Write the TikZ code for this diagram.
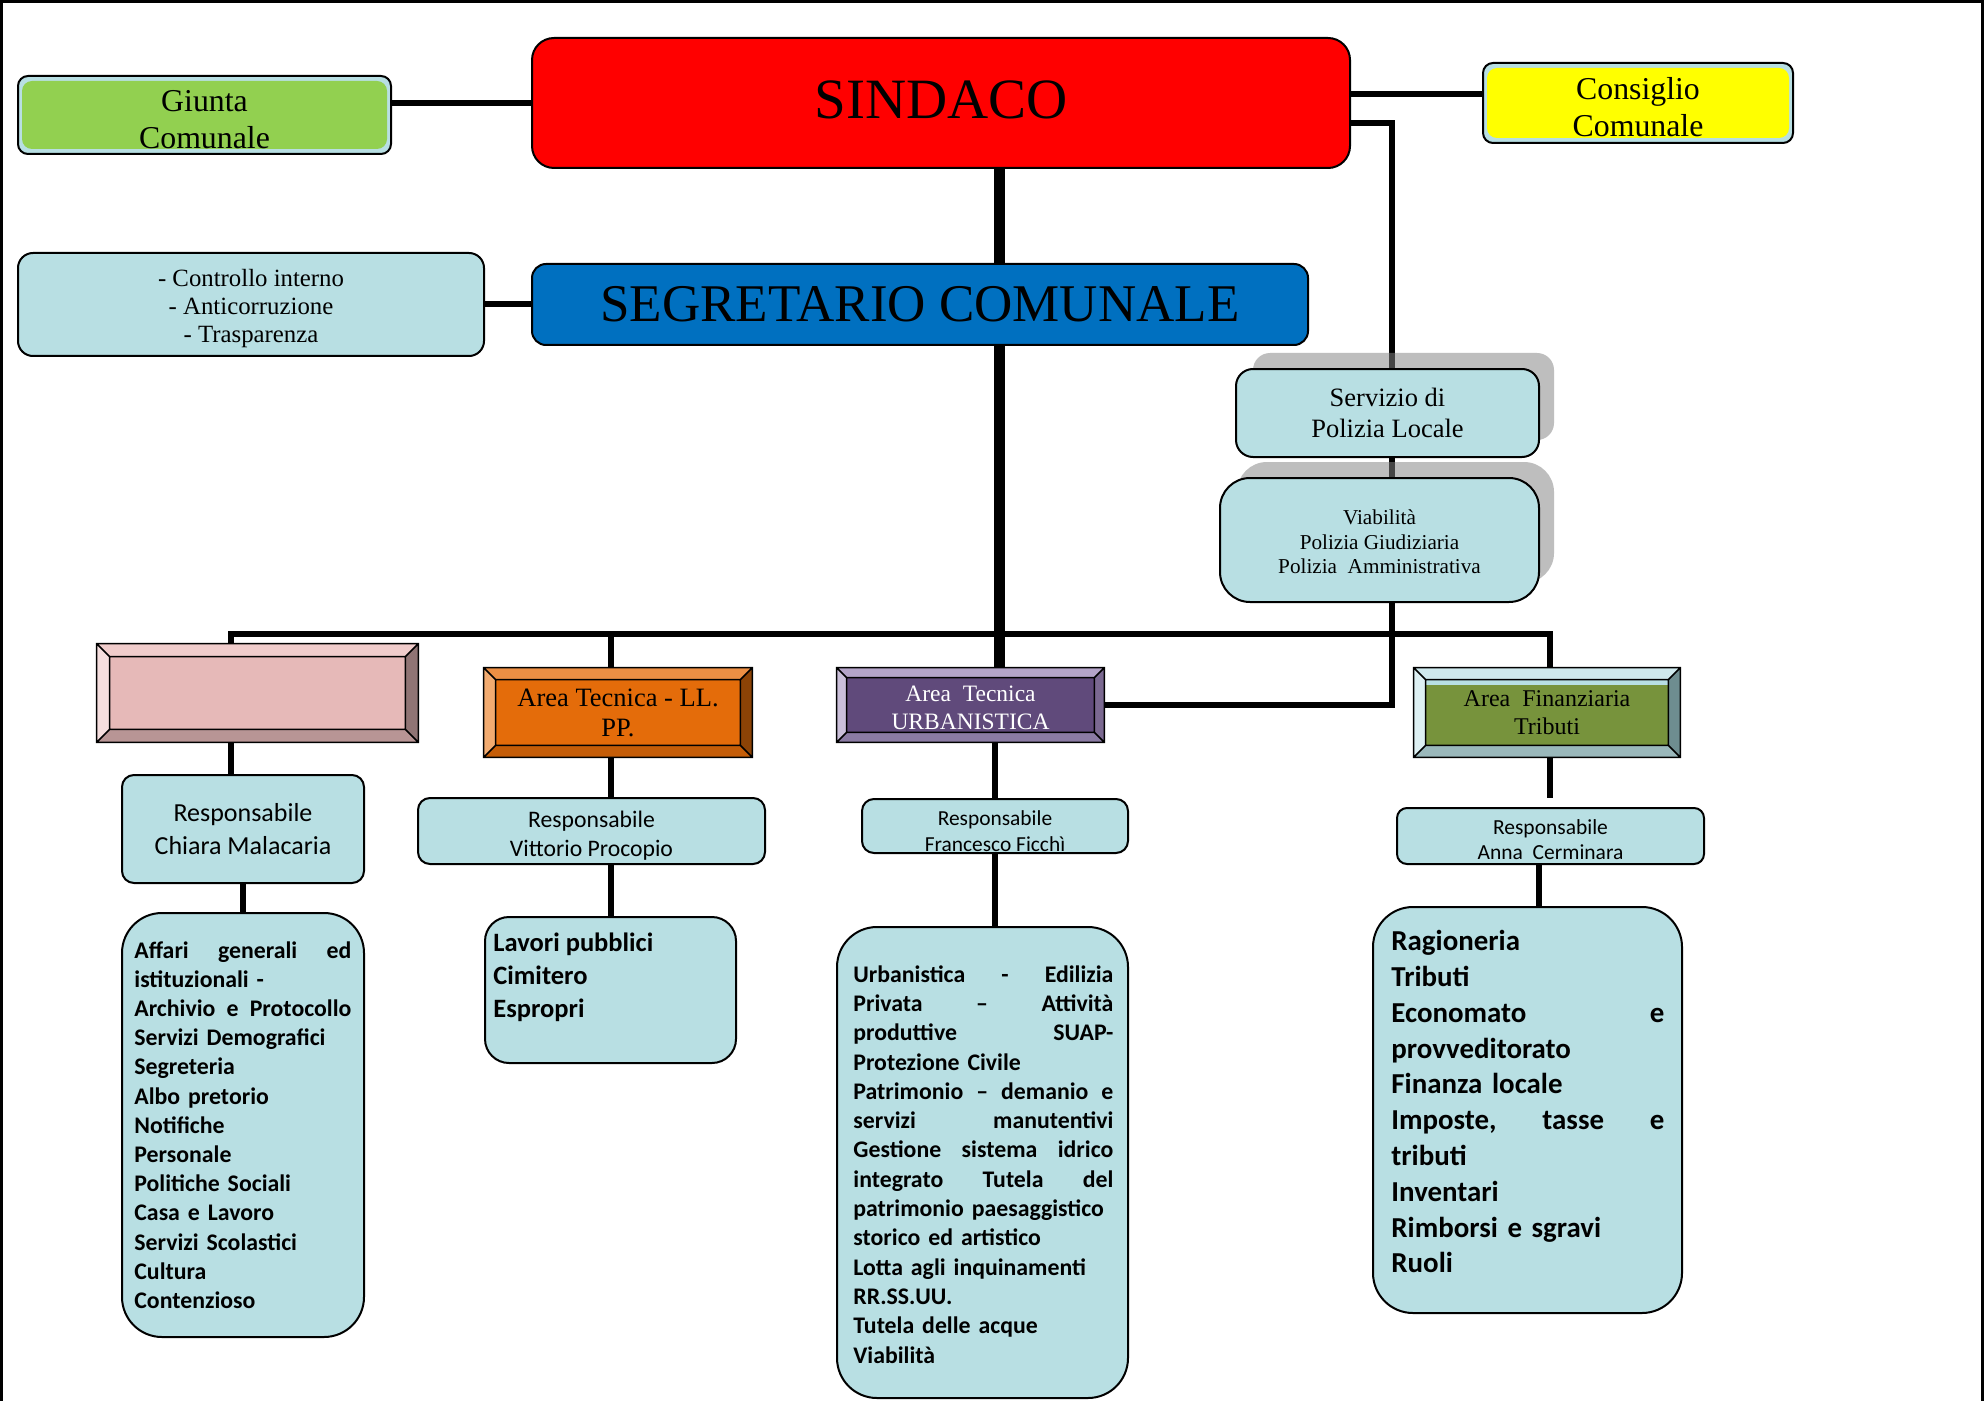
\documentclass[tikz,border=0pt]{standalone}
\usepackage{fontspec}
\setmainfont{Liberation Serif}
\newfontfamily\calfont{Carlito}
\usetikzlibrary{fit,calc}
\pgfdeclarelayer{bg}
\pgfdeclarelayer{mid}
\pgfsetlayers{bg,mid,main}
\definecolor{lblue}{HTML}{B8DFE3}
\definecolor{ggreen}{HTML}{92D050}
\definecolor{cyellow}{HTML}{FFFF00}
\definecolor{sred}{HTML}{FF0000}
\definecolor{sblue}{HTML}{0070C0}
\definecolor{shgray}{HTML}{858585}
\definecolor{pkface}{HTML}{E6B9B8}\definecolor{pktop}{HTML}{F0CCCB}\definecolor{pkleft}{HTML}{F5DEDE}\definecolor{pkright}{HTML}{907474}\definecolor{pkbot}{HTML}{B89595}
\definecolor{orface}{HTML}{E46C0A}\definecolor{ortop}{HTML}{EC8F44}\definecolor{orleft}{HTML}{F2AB70}\definecolor{orright}{HTML}{8C4306}\definecolor{orbot}{HTML}{C45D08}
\definecolor{puface}{HTML}{604A7B}\definecolor{putop}{HTML}{B4A4C8}\definecolor{puleft}{HTML}{CABFD9}\definecolor{puright}{HTML}{7B6991}\definecolor{pubot}{HTML}{8B7BA3}
\definecolor{fiface}{HTML}{77933C}\definecolor{fitop}{HTML}{CFE9ED}\definecolor{fileft}{HTML}{DDF0F3}\definecolor{firight}{HTML}{6E8D90}\definecolor{fibot}{HTML}{9AB8BB}
\tikzset{
  conn/.style={line width=3pt},
  mainline/.style={line width=5.5pt},
  rbox/.style={draw, line width=1pt, fill=lblue, inner sep=0pt, align=center},
  bevbox/.style={inner sep=0pt, align=center},
  bevline/.style={draw=black, line width=0.75pt},
  shadowbox/.style={fill=shgray, opacity=0.525},
  listtxt/.style={inner sep=0pt, align=left, anchor=north west},
  sz/.style 2 args={minimum width=#1, minimum height=#2},
}
\newcommand{\toprule}[1]{\rule{0pt}{#1}}
\newcommand{\bevelframe}[6]{%
  \fill[#3] (#1.north west) -- (#1.north east) -- ($(#1.north east)+(-#2,#2)$) -- ($(#1.north west)+(#2,#2)$) -- cycle;
  \fill[#4] (#1.north west) -- ($(#1.north west)+(#2,#2)$) -- ($(#1.south west)+(#2,-#2)$) -- (#1.south west) -- cycle;
  \fill[#5] (#1.north east) -- ($(#1.north east)+(-#2,#2)$) -- ($(#1.south east)+(-#2,-#2)$) -- (#1.south east) -- cycle;
  \fill[#6] (#1.south west) -- ($(#1.south west)+(#2,-#2)$) -- ($(#1.south east)+(-#2,-#2)$) -- (#1.south east) -- cycle;
  \draw[bevline] (#1.north west) rectangle (#1.south east)
     ($(#1.north west)+(#2,#2)$) rectangle ($(#1.south east)+(-#2,-#2)$)
     (#1.north west) -- ++(#2,#2) (#1.north east) -- ++(-#2,#2)
     (#1.south west) -- ++(#2,-#2) (#1.south east) -- ++(-#2,-#2);
}
\begin{document}
\begin{tikzpicture}[x=0.5pt,y=-0.5pt]
\useasboundingbox (0,0) rectangle (1984,1401);
\begin{pgfonlayer}{bg}
\fill[white] (0,0) rectangle (1984,1401);
\end{pgfonlayer}
\draw[line width=1.5pt] (1.5,1401) -- (1.5,1.5) -- (1982.5,1.5) -- (1982.5,1401);

% top row
\node[rbox, rounded corners=5pt, sz={186.5pt}{39pt}, font=\fontsize{15.9}{18.5}\selectfont,
  path picture={\fill[ggreen] ($(path picture bounding box.south west)+(4,-5)$) rectangle ($(path picture bounding box.north east)+(-4,5)$);}]
  (giunta) at (204.5,115) {\toprule{14.8pt}Giunta\\Comunale};
\node[rbox, rounded corners=5pt, sz={155pt}{40pt}, font=\fontsize{15.9}{18.5}\selectfont,
  path picture={\fill[cyellow] ($(path picture bounding box.south west)+(4,-5)$) rectangle ($(path picture bounding box.north east)+(-4,5)$);}]
  (consiglio) at (1638,103) {\toprule{14.9pt}Consiglio\\Comunale};
\node[rbox, fill=sred, rounded corners=11pt, sz={409pt}{65pt}, font=\fontsize{28.5}{30}\selectfont] (sindaco) at (941,103) {\raisebox{3pt}{SINDACO}};
\node[rbox, fill=sblue, rounded corners=7pt, sz={388pt}{40.5pt}, font=\fontsize{26.5}{28}\selectfont] (segretario) at (920,304.5) {SEGRETARIO COMUNALE};
\node[rbox, rounded corners=7.5pt, sz={233pt}{51.5pt}, font=\fontsize{12.4}{14}\selectfont] (controllo) at (251,304.5) {\toprule{12.4pt}- Controllo interno\\- Anticorruzione\\- Trasparenza};

% polizia
\begin{pgfonlayer}{mid}
\fill[shadowbox, rounded corners=8.5pt] (1253,353) rectangle (1554,440);
\fill[shadowbox, rounded corners=15pt] (1237,462) rectangle (1554,583);
\end{pgfonlayer}
\node[rbox, rounded corners=8.5pt, sz={151.5pt}{44pt}, font=\fontsize{13.25}{15.5}\selectfont] (servizio) at (1387.5,413) {Servizio di\\Polizia Locale};
\node[rbox, rounded corners=15pt, sz={159.5pt}{62pt}, font=\fontsize{10.6}{12.25}\selectfont] (viab) at (1379.5,540) {\toprule{9.5pt}Viabilità\\Polizia Giudiziaria\\Polizia\ \ Amministrativa};

% areas
\node[bevbox, fill=pkface, sz={160.5pt}{49pt}] (pink) at (257.5,693) {};
\bevelframe{pink}{13}{pktop}{pkleft}{pkright}{pkbot}
\node[bevbox, fill=orface, sz={134pt}{44.5pt}, font=\fontsize{13.25}{15}\selectfont] (lavpp) at (618,712.5) {Area Tecnica - LL.\\PP.};
\bevelframe{lavpp}{12}{ortop}{orleft}{orright}{orbot}
\node[bevbox, fill=puface, text=white, sz={133.5pt}{37pt}, font=\fontsize{11.75}{14}\selectfont] (urb) at (970.5,705) {\toprule{10.5pt}Area\ \ Tecnica\\URBANISTICA};
\bevelframe{urb}{10}{putop}{puleft}{puright}{pubot}
\node[bevbox, fill=fiface, sz={133pt}{44.5pt}, font=\fontsize{12}{14}\selectfont] (fin) at (1547,712.5) {Area\ \ Finanziaria\\Tributi};
\fill[lblue] ($(fin.north west)+(12,12)$) rectangle ($(fin.north east)+(-12,17)$);
\bevelframe{fin}{12}{fitop}{fileft}{firight}{fibot}

% responsabili
\node[rbox, rounded corners=6pt, sz={121pt}{54pt}, font=\calfont\fontsize{13}{16.5}\selectfont] (chiara) at (243,829) {Responsabile\\Chiara Malacaria};
\node[rbox, rounded corners=6pt, sz={173.5pt}{33pt}, font=\calfont\fontsize{11.85}{14.5}\selectfont] (vittorio) at (591.5,831) {\toprule{13.2pt}Responsabile\\Vittorio Procopio};
\node[rbox, rounded corners=6pt, sz={133pt}{27pt}, font=\calfont\fontsize{10.7}{13}\selectfont] (francesco) at (995,826) {\toprule{12.4pt}Responsabile\\Francesco Ficchì};
\node[rbox, rounded corners=5pt, sz={153.5pt}{28pt}, font=\calfont\fontsize{10.75}{12.5}\selectfont] (anna) at (1550.5,836) {\toprule{11.4pt}Responsabile\\Anna\ \ Cerminara};

% lists
\node[rbox, rounded corners=20pt, fit={(122,913)(364,1337)}] (leftlist) {};
\node[listtxt, text width=108.5pt, font=\calfont\bfseries\fontsize{11.9}{14.6}\selectfont] (leftlisttxt) at (134,941) {Affari\hfill generali\hfill ed\\istituzionali -\\Archivio\hfill e\hfill Protocollo\\Servizi Demografici\\Segreteria\\Albo pretorio\\Notifiche\\Personale\\Politiche Sociali\\Casa e Lavoro\\Servizi Scolastici\\Cultura\\Contenzioso};
\node[rbox, rounded corners=12pt, fit={(485,917)(736,1063)}] (lavori) {};
\node[listtxt, font=\calfont\bfseries\fontsize{13.25}{16.5}\selectfont] (lavoritxt) at (493,932) {Lavori pubblici\\Cimitero\\Espropri};
\node[rbox, rounded corners=20pt, fit={(837,927)(1128,1398)}] (urblist) {};
\node[listtxt, text width=130pt, font=\calfont\bfseries\fontsize{11.9}{14.65}\selectfont] (urblisttxt) at (853,965) {Urbanistica\hfill -\hfill Edilizia\\Privata\hfill –\hfill Attività\\produttive\hfill SUAP-\\Protezione Civile\\Patrimonio\hfill –\hfill demanio\hfill e\\servizi\hfill manutentivi\\Gestione\hfill sistema\hfill idrico\\integrato\hfill Tutela\hfill del\\patrimonio paesaggistico\\storico ed artistico\\Lotta agli inquinamenti\\RR.SS.UU.\\Tutela delle acque\\Viabilità};
\node[rbox, rounded corners=20pt, fit={(1373,907)(1682,1313)}] (finlist) {};
\node[listtxt, text width=136.5pt, font=\calfont\bfseries\fontsize{14.45}{17.9}\selectfont] (finlisttxt) at (1391,930) {Ragioneria\\Tributi\\Economato\hfill e\\provveditorato\\Finanza locale\\Imposte,\hfill tasse\hfill e\\tributi\\Inventari\\Rimborsi e sgravi\\Ruoli};

% connectors
\begin{pgfonlayer}{bg}
\draw[conn] (giunta.east |- sindaco.west) -- (sindaco.west);
\draw[conn] (controllo.east) -- (segretario.west |- controllo.east);
\draw[conn] (sindaco.east |- 0,94) -- (consiglio.west |- 0,94);
\draw[conn] (sindaco.east |- 0,123) -- (1392,123) -- (servizio.north -| 1392,0);
\draw[conn] (servizio.south -| 1392,0) -- (viab.north -| 1392,0);
\draw[conn] (viab.south -| 1392,0) -- (1392,705) -- (urb.east);
\draw[mainline] (sindaco.south -| 999,0) -- (segretario.north -| 999,0);
\draw[mainline] (segretario.south -| 999,0) -- (urb.north -| 999,0);
\draw[conn] (pink.north -| 231,0) -- (231,634) -- (1550,634) -- (fin.north -| 1550,0);
\draw[conn] (611,634) -- (lavpp.north -| 611,0);
\draw[conn] (pink.south -| 231,0) -- (chiara.north -| 231,0);
\draw[conn] (chiara.south) -- (leftlist.north);
\draw[conn] (lavpp.south -| 611,0) -- (vittorio.north -| 611,0);
\draw[conn] (vittorio.south -| 611,0) -- (lavori.north -| 611,0);
\draw[conn] (urb.south -| 995,0) -- (francesco.north -| 995,0);
\draw[conn] (francesco.south) -- (urblist.north -| francesco.south);
\coordinate (fingap) at (1550,798);
\draw[conn] (fin.south -| fingap) -- (fingap);
\draw[conn] (anna.south -| 1539,0) -- (finlist.north -| 1539,0);
\end{pgfonlayer}
\end{tikzpicture}
\end{document}
